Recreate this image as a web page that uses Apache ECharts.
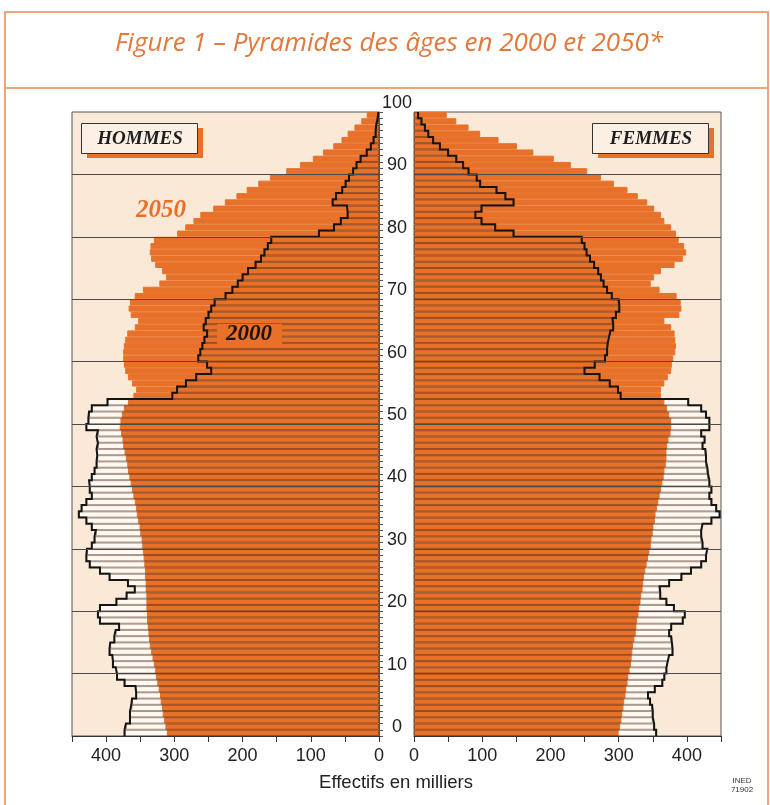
<!DOCTYPE html>
<html><head><meta charset="utf-8">
<script src="https://cdn.jsdelivr.net/npm/echarts/dist/echarts.min.js"></script>
<style>html,body{margin:0;padding:0;background:#fff;}#c{width:770px;height:805px;}</style>
</head><body><div id="c"></div>
<script>
// Categories: single years of age 0..99
const ages = Array.from({length: 100}, (_, i) => String(i));
const ageTickLabels = [0, 10, 20, 30, 40, 50, 60, 70, 80, 90, 100];
const ageGridLines = [10, 20, 30, 40, 50, 60, 70, 80, 90];
const xTickLabels = [0, 100, 200, 300, 400];

// Effectifs en milliers, index = age 0..99
const hommes2000 = [
 373,371,365,365,363,362,356,357,373,384,
 386,390,391,395,394,388,386,381,409,412,
 409,385,370,358,368,395,409,424,429,428,
 421,417,415,421,429,440,436,429,421,424,
 425,421,417,414,413,414,412,414,412,429,
 426,425,421,398,303,296,283,268,246,252,
 265,262,259,256,252,257,254,250,246,241,
 225,215,207,200,192,181,173,168,163,158,
 88,66,56,46,47,68,63,54,49,44,
 38,33,27,18,12,8,5,4,2,1];
const hommes2050 = [
 311,313,315,317,318,320,321,323,325,327,
 328,330,332,334,336,337,338,339,340,340,
 341,341,341,342,342,343,343,344,345,346,
 347,348,350,351,353,355,356,358,360,362,
 364,366,368,369,371,373,375,376,378,380,
 379,377,374,368,360,356,362,368,372,374,
 375,375,374,372,369,358,353,364,367,365,
 358,346,322,312,318,328,334,336,335,330,
 296,284,272,262,243,226,209,194,177,160,
 136,116,97,82,67,55,46,36,26,18];
const femmes2000 = [
 355,352,350,350,349,346,343,353,364,367,
 370,372,374,379,378,377,374,377,394,397,
 381,370,361,360,374,392,406,421,428,430,
 423,421,421,423,436,448,443,436,433,436,
 433,431,430,428,428,427,423,426,421,433,
 433,428,421,402,303,299,287,272,250,265,
 280,283,284,286,288,292,291,296,301,300,
 290,283,278,274,270,264,258,253,250,246,
 146,119,99,90,99,146,134,121,97,92,
 80,72,62,50,38,28,21,16,11,6];
const femmes2050 = [
 300,302,304,305,307,308,310,311,313,314,
 316,318,319,320,321,323,325,326,327,329,
 330,332,333,335,336,337,339,341,343,345,
 347,348,350,351,353,354,356,358,360,362,
 364,366,367,369,370,370,371,373,376,377,
 377,374,371,367,362,362,367,372,377,378,
 380,383,384,383,382,377,367,389,392,391,
 385,360,347,352,362,382,394,399,396,388,
 384,377,367,362,352,342,328,313,293,274,
 254,230,205,175,151,124,97,80,62,48];

function stepOutline(vals) {
  const pts = [];
  vals.forEach((v, i) => { pts.push([v, i]); pts.push([v, i + 1]); });
  return pts;
}

const ORANGE = '#E8712A';
const BEIGE = '#FBE9D8';
const BAR2000 = '#FFF9F2';
const STRIPE = 'rgba(60,30,10,0.45)';
const AXIS = '#333';
const FONT = '"Liberation Sans", Arial, sans-serif';

function xAxisDef(gi, inverse) {
  return {
    gridIndex: gi, type: 'value', min: 0, max: 450, interval: 50, inverse: inverse,
    axisLine: {show: true, onZero: false, lineStyle: {color: AXIS, width: 1}},
    axisTick: {show: true, length: 6, inside: false, lineStyle: {color: AXIS}},
    axisLabel: {show: true, margin: 11, fontSize: 18, fontFamily: FONT, color: '#222',
      showMinLabel: true, showMaxLabel: true,
      formatter: v => xTickLabels.includes(v) ? String(v) : ''},
    splitLine: {show: false}
  };
}

function panelSeries(gi, v2000, v2050) {
  const common = {xAxisIndex: gi, yAxisIndex: gi * 2, barGap: '-100%', barCategoryGap: '0%',
    silent: true, animation: false};
  return [
    Object.assign({type: 'bar', data: v2000, z: 2,
      itemStyle: {color: BAR2000, borderColor: BAR2000, borderWidth: 1}}, common),
    Object.assign({type: 'bar', data: v2050, z: 2,
      itemStyle: {color: ORANGE, borderColor: ORANGE, borderWidth: 1}}, common),
    Object.assign({type: 'bar', data: v2000, z: 2,
      itemStyle: {color: 'rgba(0,0,0,0)', borderColor: STRIPE, borderWidth: 1}}, common),
    {type: 'line', xAxisIndex: gi, yAxisIndex: gi * 2 + 1, data: stepOutline(v2000),
      showSymbol: false, symbol: 'none', silent: true, animation: false, z: 4,
      lineStyle: {color: '#141414', width: 2, join: 'miter'},
      markLine: {silent: true, symbol: ['none', 'none'], animation: false,
        label: {show: false},
        lineStyle: {color: '#4a4a4a', width: 1, type: 'solid'},
        emphasis: {disabled: true},
        data: ageGridLines.map(a => ({yAxis: a}))}}
  ];
}

const chart = echarts.init(document.getElementById('c'), null, {renderer: 'canvas'});
chart.setOption({
  animation: false,
  backgroundColor: '#ffffff',
  grid: [
    {left: 72, top: 112, width: 307, height: 624, show: true, backgroundColor: BEIGE,
      borderColor: '#555', borderWidth: 1},
    {left: 414, top: 112, width: 307, height: 624, show: true, backgroundColor: BEIGE,
      borderColor: '#555', borderWidth: 1}
  ],
  xAxis: [xAxisDef(0, true), xAxisDef(1, false)],
  yAxis: [
    {gridIndex: 0, type: 'category', data: ages, position: 'right', boundaryGap: true,
      axisLine: {show: true, lineStyle: {color: '#555'}},
      axisTick: {show: true, interval: 0, length: 4, inside: false, lineStyle: {color: '#555'}},
      axisLabel: {show: false}, splitLine: {show: false}},
    {gridIndex: 0, type: 'value', min: 0, max: 100, show: false},
    {gridIndex: 1, type: 'category', data: ages, boundaryGap: true, show: false},
    {gridIndex: 1, type: 'value', min: 0, max: 100, interval: 10, position: 'left',
      axisLine: {show: false}, axisTick: {show: false}, splitLine: {show: false},
      axisLabel: {show: true, margin: 17, align: 'center', verticalAlign: 'bottom',
        fontSize: 18, fontFamily: FONT, color: '#222', showMinLabel: true, showMaxLabel: true,
        formatter: v => ageTickLabels.includes(v) ? String(v) : ''}}
  ],
  series: [].concat(panelSeries(0, hommes2000, hommes2050), panelSeries(1, femmes2000, femmes2050)),
  graphic: [
    {type: 'rect', silent: true, z: 100, shape: {x: 5, y: 12, width: 763, height: 830},
      style: {fill: 'none', stroke: '#EBA47C', lineWidth: 2}},
    {type: 'line', silent: true, z: 100, shape: {x1: 5, y1: 88, x2: 768, y2: 88},
      style: {stroke: '#EBA47C', lineWidth: 2}},
    {type: 'text', silent: true, z: 100, x: 389, y: 44,
      style: {text: 'Figure 1 – Pyramides des âges en 2000 et 2050*', fill: '#E2783A',
        font: 'italic 26px "Open Sans", sans-serif', align: 'center', verticalAlign: 'middle',
        textAlign: 'center', textVerticalAlign: 'middle'}},
    // HOMMES box
    {type: 'rect', silent: true, z: 100, shape: {x: 87, y: 128, width: 116, height: 30}, style: {fill: ORANGE}},
    {type: 'rect', silent: true, z: 101, shape: {x: 81.5, y: 123.5, width: 116, height: 30},
      style: {fill: '#FCF0E4', stroke: '#333', lineWidth: 1}},
    {type: 'text', silent: true, z: 102, x: 140, y: 139,
      style: {text: 'HOMMES', fill: '#1e1e1e', font: 'italic bold 19px "Liberation Serif", serif',
        align: 'center', verticalAlign: 'middle', textAlign: 'center', textVerticalAlign: 'middle'}},
    // FEMMES box
    {type: 'rect', silent: true, z: 100, shape: {x: 598, y: 128, width: 116, height: 30}, style: {fill: ORANGE}},
    {type: 'rect', silent: true, z: 101, shape: {x: 592.5, y: 123.5, width: 116, height: 30},
      style: {fill: '#FCF0E4', stroke: '#333', lineWidth: 1}},
    {type: 'text', silent: true, z: 102, x: 651, y: 139,
      style: {text: 'FEMMES', fill: '#1e1e1e', font: 'italic bold 19px "Liberation Serif", serif',
        align: 'center', verticalAlign: 'middle', textAlign: 'center', textVerticalAlign: 'middle'}},
    // 2050 label
    {type: 'text', silent: true, z: 102, x: 161, y: 211,
      style: {text: '2050', fill: ORANGE, font: 'italic bold 25px "Liberation Serif", serif',
        align: 'center', verticalAlign: 'middle', textAlign: 'center', textVerticalAlign: 'middle'}},
    // 2000 label
    {type: 'rect', silent: true, z: 101, shape: {x: 217, y: 324, width: 65, height: 20}, style: {fill: ORANGE}},
    {type: 'text', silent: true, z: 102, x: 249, y: 334,
      style: {text: '2000', fill: '#1e140c', font: 'italic bold 23px "Liberation Serif", serif',
        align: 'center', verticalAlign: 'middle', textAlign: 'center', textVerticalAlign: 'middle'}},
    // axis name
    {type: 'text', silent: true, z: 102, x: 396, y: 783,
      style: {text: 'Effectifs en milliers', fill: '#222', font: '18.5px "Liberation Sans", Arial, sans-serif',
        align: 'center', verticalAlign: 'middle', textAlign: 'center', textVerticalAlign: 'middle'}},
    {type: 'text', silent: true, z: 102, x: 742, y: 781,
      style: {text: 'INED', fill: '#333', font: '8px "Liberation Sans", Arial, sans-serif',
        align: 'center', verticalAlign: 'middle', textAlign: 'center', textVerticalAlign: 'middle'}},
    {type: 'text', silent: true, z: 102, x: 742, y: 790,
      style: {text: '71902', fill: '#333', font: '8px "Liberation Sans", Arial, sans-serif',
        align: 'center', verticalAlign: 'middle', textAlign: 'center', textVerticalAlign: 'middle'}}
  ]
});
</script>
</body></html>
